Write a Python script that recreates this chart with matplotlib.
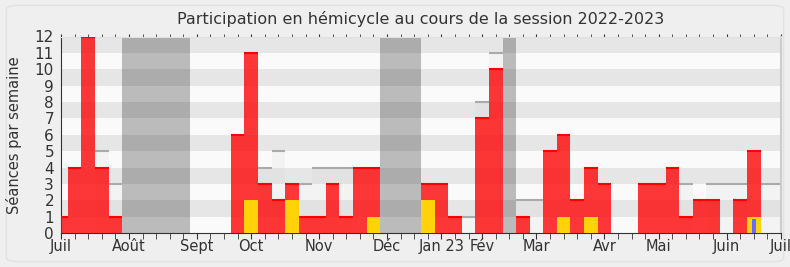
import numpy as np
import matplotlib
matplotlib.use("Agg")
import matplotlib.pyplot as plt
from matplotlib.patches import FancyBboxPatch

# === 1. Weekly data (week 0 = week of 27 June 2022) ===
weeks = np.arange(54)
presence = [1, 4, 12, 4, 1, 0, 0, 0, 0, 0,
            0, 0, 0, 6, 11, 3, 2, 3, 1, 1,
            3, 1, 4, 4, 0, 0, 0, 3, 3, 1,
            0, 7, 10, 0, 1, 0, 5, 6, 2, 4,
            3, 0, 0, 3, 3, 4, 1, 2, 2, 0,
            2, 5, 0, 0]
total = [0, 0, 0, 5, 3, 0, 0, 0, 0, 0,
         0, 0, 0, 0, 0, 4, 5, 0, 3, 4,
         4, 4, 0, 0, 0, 0, 0, 0, 0, 0,
         1, 8, 11, 0, 2, 2, 0, 0, 0, 0,
         0, 0, 0, 0, 0, 0, 3, 0, 3, 3,
         3, 0, 3, 3]
questions = [0, 0, 0, 0, 0, 0, 0, 0, 0, 0,
             0, 0, 0, 0, 2, 0, 0, 2, 0, 0,
             0, 0, 0, 1, 0, 0, 0, 2, 0, 0,
             0, 0, 0, 0, 0, 0, 0, 1, 0, 1,
             0, 0, 0, 0, 0, 0, 0, 0, 0, 0,
             0, 1, 0, 0]
blue_week = [51]
blue_val = [0.85]

# vacation periods (first week, last week)
vacations = [(5, 9), (24, 26), (33, 33)]

month_pos = [0, 5, 10, 14, 19, 24, 28, 31, 35, 40, 44, 49, 53]
month_labels = ["Juil", "Août", "Sept", "Oct", "Nov", "Déc", "Jan 23",
                "Fév", "Mar", "Avr", "Mai", "Juin", "Juil"]

# === 2. Figure ===
fig = plt.figure(figsize=(7.9, 2.67), dpi=100, facecolor="#efefef")
fig.patches.append(FancyBboxPatch((0.008, 0.02), 0.984, 0.96,
                                  boxstyle="round,pad=0,rounding_size=0.015",
                                  transform=fig.transFigure, facecolor="#efefef",
                                  edgecolor="#e2e2e2", lw=1, zorder=-5))
ax = fig.add_axes([61 / 790, 1 - 233 / 267, 720 / 790, (233 - 36.5) / 267])
ax.set_facecolor("#fafafa")

# --- (a) horizontal bands ---
for y in range(1, 12, 2):
    ax.axhspan(y, y + 1, color="#e6e6e6", lw=0, zorder=0)

# --- (b) vacation periods ---
for s, e in vacations:
    ax.axvspan(s - 0.5, e + 0.5, color="black", alpha=0.25, lw=0, zorder=1)

# --- (c) total sessions (light bars with grey top line) ---
tot = np.array(total, dtype=float)
pres = np.array(presence, dtype=float)
show = tot > pres
ax.bar(weeks[show], tot[show], width=1, color="#c8c8c8", alpha=0.13,
       lw=0, zorder=2)
ax.hlines(tot[show], weeks[show] - 0.5, weeks[show] + 0.5,
          color="#aaaaaa", lw=1.5, zorder=2)

# --- (d) presence bars ---
has = pres > 0
ax.bar(weeks[has], pres[has], width=1, color="#ff0000", alpha=0.78,
       lw=0, zorder=3)
ax.hlines(pres[has], weeks[has] - 0.5, weeks[has] + 0.5,
          color="#ff0000", lw=1.5, zorder=3)

# --- (e) questions and blue marker ---
q = np.array(questions, dtype=float)
ax.bar(weeks[q > 0], q[q > 0], width=1, color="#ffd20a", lw=0, zorder=4)
ax.bar(blue_week, blue_val, width=0.3, color="#6a6aff", lw=0, zorder=5)

# === 3. Axes styling ===
ax.set_xlim(0, 53)
ax.set_ylim(0, 12)
ax.set_yticks(range(13))
ax.tick_params(axis="y", length=0, labelsize=11, labelcolor="#333333", pad=5)
ax.set_xticks(month_pos)
ax.set_xticklabels(month_labels)
ax.set_xticks(weeks, minor=True)
ax.tick_params(axis="x", which="both", direction="out", length=4,
               color="#333333", labelsize=10.5, labelcolor="#333333", pad=0)
ax.tick_params(axis="x", which="both", top=True, labeltop=False)
ax.xaxis.set_tick_params(which="both", top=True)
for t in ax.xaxis.get_major_ticks() + ax.xaxis.get_minor_ticks():
    t.tick2line.set_markersize(2)
ax.set_ylabel("Séances par semaine", fontsize=10.5, color="#333333", labelpad=9)
ax.set_title("Participation en hémicycle au cours de la session 2022-2023",
             fontsize=11.5, color="#333333", pad=9)

ax.spines["left"].set_color("#333333")
ax.spines["bottom"].set_color("#333333")
ax.spines["top"].set_color("#e0e0e0")
ax.spines["right"].set_color("#cccccc")
ax.spines["right"].set_linewidth(1.5)

fig.savefig("out.png", dpi=100, facecolor=fig.get_facecolor())
